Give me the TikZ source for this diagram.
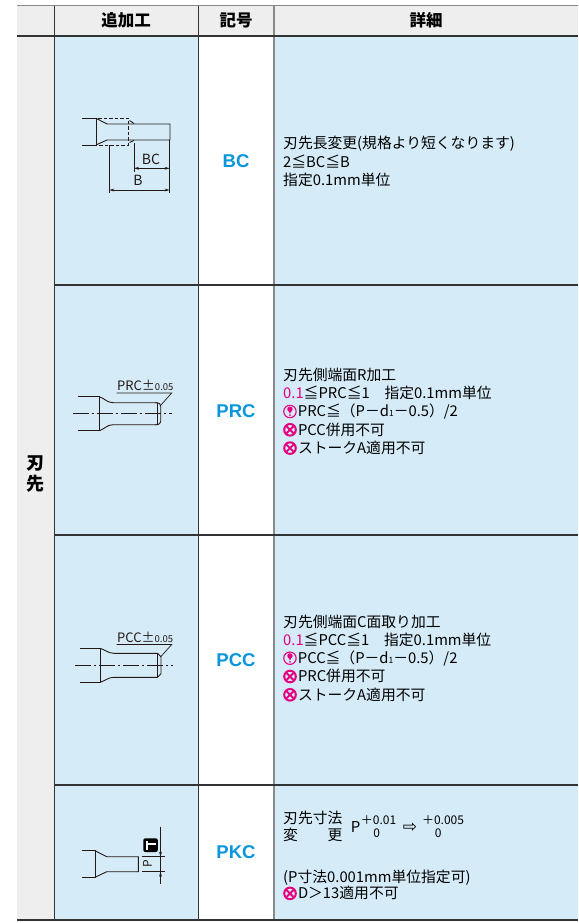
\documentclass[tikz,border=0pt]{standalone}
\usepackage{fontspec}
\setmainfont{Noto Sans CJK JP}
\newfontfamily\latn{Liberation Sans}
\newfontfamily\djv{DejaVu Sans}
\usetikzlibrary{arrows.meta}
\definecolor{bluebg}{HTML}{D5ECF8}
\definecolor{graybg}{HTML}{EEEEEE}
\definecolor{lbl}{HTML}{0A96DC}
\definecolor{pinkc}{HTML}{E4007F}
\definecolor{ink}{HTML}{231815}
\definecolor{rulec}{HTML}{333333}
\definecolor{rulegray}{HTML}{8A8A8A}
\newcommand\xico{\tikz[baseline={(0,0)},x=1pt,y=1pt]{\draw[pinkc,line width=2pt] (0,5.4) circle[radius=5.8]; \draw[pinkc,line width=1.9pt] (-3.5,1.9)--(3.5,8.9) (-3.5,8.9)--(3.5,1.9);}\hspace{1.2pt}}
\newcommand\wico{\tikz[baseline={(0,0)},x=1pt,y=1pt]{\draw[pinkc,line width=1.1pt] (0,5.4) circle[radius=6.2]; \fill[pinkc] (0,7.7) circle[radius=2.7]; \fill[pinkc] (-1.9,6.8)--(1.9,6.8)--(0,3.2)--cycle; \fill[pinkc] (0,1.7) circle[radius=1];}\hspace{1.2pt}}
\newcommand\subone{{\fontsize{8.5}{8}\selectfont 1}}
\tikzset{
  part/.style={draw=ink,line width=0.9pt},
  dimln/.style={draw=ink,line width=0.7pt},
  dimarr/.style={dimln,{Stealth[length=5pt,width=2.8pt]}-{Stealth[length=5pt,width=2.8pt]}},
  onearr/.style={dimln,-{Stealth[length=5pt,width=2.8pt]}},
  cline/.style={draw=ink,line width=0.6pt,dash pattern=on 16pt off 3pt on 2pt off 3pt},
  hdr/.style={font=\bfseries\fontsize{16.5}{18}\selectfont,text=black,inner sep=0},
  code/.style={font=\latn\bfseries\fontsize{18.5}{20}\selectfont,text=lbl,inner sep=0},
  det/.style={font=\fontsize{14.8}{18}\selectfont,text=black,inner sep=0,anchor=base west},
  tol/.style={font=\fontsize{12}{13}\selectfont,text=black,inner sep=0},
  dlbl/.style={font=\fontsize{13}{14}\selectfont,text=ink,inner sep=0}
}
\begin{document}
\begin{tikzpicture}[x=1pt,y=-1pt]
\useasboundingbox (0,0) rectangle (578,923);
% backgrounds
\fill[white] (0,0) rectangle (578,923);
\fill[graybg] (17,5.7) rectangle (578,36);
\fill[graybg] (17,36) rectangle (54,920);
\fill[bluebg] (54,36) rectangle (198,920);
\fill[bluebg] (274,36) rectangle (578,920);
% rules
\draw[rulegray,line width=1.2pt] (17,5.7) -- (578,5.7);
\draw[rulec,line width=0.9pt] (54,5.7) -- (54,920);
\draw[rulec,line width=0.9pt] (198,5.7) -- (198,920);
\draw[rulegray,line width=1.8pt] (274,5.7) -- (274,920);
\foreach \yy in {285,535,785} \draw[rulec,line width=1.2pt] (54,\yy) -- (578,\yy);
\draw[rulec,line width=2pt] (17,36) -- (578,36);
\draw[rulec,line width=2pt] (17,920) -- (578,920);
% header
\node[hdr] (h1) at (126,20.5) {追加工};
\node[hdr] (h2) at (236,20.5) {記号};
\node[hdr] (h3) at (426,20.5) {詳細};
\node[font=\bfseries\fontsize{18}{21}\selectfont,align=center,inner sep=0] (side) at (35.5,474) {刃\\先};
% codes
\node[code] (c1) at (236,161) {BC};
\node[code] (c2) at (236,411) {PRC};
\node[code] (c3) at (236,660) {PCC};
\node[code] (c4) at (236,852) {PKC};
% ---------- BC drawing
\draw[part] (82,118.3) -- (96,118.3) -- (96,145) -- (82,145);
\draw[part] (96,118.3) -- (107,124) -- (170,124) -- (170,140) -- (107,140) -- (96,145);
\draw[ink,line width=0.9pt,dash pattern=on 3.5pt off 2pt] (98,118.3) -- (128.3,118.3) -- (128.3,145) -- (98,145);
\draw[ink,line width=0.9pt] (129.5,120.5) -- (134,123.5) (129.5,142.5) -- (134,140.5);
\draw[dimln] (109.3,145) -- (109.3,193);
\draw[dimln] (134,143) -- (134,172);
\draw[dimln] (169.6,140) -- (169.6,193);
\draw[dimarr] (134,168.3) -- (169.6,168.3);
\draw[dimarr] (109.3,190) -- (169.6,190);
\node[dlbl,font=\fontsize{14}{15}\selectfont] (lbc) at (151,159) {BC};
\node[dlbl,font=\fontsize{14}{15}\selectfont] (lb) at (138,180) {B};
% ---------- PRC drawing
\draw[part] (78.3,396.7) -- (99.3,396.7) -- (99.3,430.7) -- (78.3,430.7);
\draw[part] (99.3,396.7) .. controls (104,398) and (107,402.7) .. (113,402.7) -- (157,402.7);
\draw[part] (99.3,430.7) .. controls (104,429.4) and (107,424.7) .. (113,424.7) -- (157,424.7);
\draw[part,rounded corners=3.5pt] (155,402.7) -- (160.7,402.7) -- (160.7,424.7) -- (155,424.7);
\draw[part] (157,402.7) -- (157,424.7);
\draw[cline] (73.3,413.7) -- (171.7,413.7);
\node[dlbl,anchor=base west] (lprc) at (117,390.5) {PRC±{\fontsize{9.5}{10}\selectfont 0.05}};
\draw[dimln] (116.7,393) -- (171.7,393) -- (160.5,405.5);
% ---------- PCC drawing
\draw[part] (80,648.3) -- (100,648.3) -- (100,682.3) -- (80,682.3);
\draw[part] (100,648.3) .. controls (105,649.6) and (108,653.3) .. (114,653.3) -- (157.5,653.3) -- (161,656.8) -- (161,673.8) -- (157.5,677.3) -- (114,677.3) .. controls (108,677.3) and (105,681) .. (100,682.3);
\draw[part] (157.5,653.3) -- (157.5,677.3);
\draw[cline] (75,665.3) -- (173.3,665.3);
\node[dlbl,anchor=base west] (lpcc) at (117,642) {PCC±{\fontsize{9.5}{10}\selectfont 0.05}};
\draw[dimln] (116.7,644.5) -- (171.7,644.5) -- (160.5,657);
% ---------- PKC drawing
\draw[part] (81.7,850.7) -- (95,850.7) -- (95,877.3) -- (81.7,877.3);
\draw[part] (95,850.7) -- (106.7,856.7) -- (138.3,856.7) -- (138.3,871.7) -- (106.7,871.7) -- (95,877.3);
\draw[dimln] (141.7,856.7) -- (165,856.7);
\draw[dimln] (141.7,871.7) -- (165,871.7);
\draw[dimln] (160.5,826.7) -- (160.5,884);
\draw[onearr] (160.5,840) -- (160.5,856.7);
\draw[onearr] (160.5,884) -- (160.5,871.7);
\node[dlbl,font=\fontsize{12}{13}\selectfont,rotate=90] (lp) at (147.5,864) {P};
\fill[black,rounded corners=2pt] (143.3,838.3) rectangle (157.8,852);
\draw[white,line width=2pt] (146.8,841) -- (146.8,849.5) (146.8,844.3) -- (155.5,844.3);
% ---------- details row 1
\node[det] (d1a) at (283,148.6) {刃先長変更(規格より短くなります)};
\node[det] (d1b) at (283,167) {2≦BC≦B};
\node[det] (d1c) at (283,185.3) {指定0.1mm単位};
% row 2
\node[det] (d2a) at (283,380.3) {刃先側端面R加工};
\node[det] (d2b) at (283,398.6) {{\color{pinkc}0.1}≦PRC≦1　指定0.1mm単位};
\node[det] (d2c) at (283,416.9) {\wico PRC≦（P－d\subone－0.5）/2};
\node[det] (d2d) at (283,435.2) {\xico PCC併用不可};
\node[det] (d2e) at (283,453.5) {\xico ストークA適用不可};
% row 3
\node[det] (d3a) at (283,627) {刃先側端面C面取り加工};
\node[det] (d3b) at (283,645.3) {{\color{pinkc}0.1}≦PCC≦1　指定0.1mm単位};
\node[det] (d3c) at (283,663.6) {\wico PCC≦（P－d\subone－0.5）/2};
\node[det] (d3d) at (283,681.9) {\xico PRC併用不可};
\node[det] (d3e) at (283,700.2) {\xico ストークA適用不可};
% row 4
\node[det] (d4a) at (283,823.6) {刃先寸法};
\node[det] (d4b) at (283,840.3) {変};
\node[det,anchor=base east] (d4c) at (342.5,840.3) {更};
\node[font=\fontsize{15}{16}\selectfont,inner sep=0] (d4p) at (355.5,826.7) {P};
\node[tol] (d4t1) at (378.5,820) {＋0.01};
\node[tol] (d4t2) at (376.7,833.3) {0};
\node[font=\djv\fontsize{17}{18}\selectfont,inner sep=0] (d4arr) at (410,827.5) {⇨};
\node[tol] (d4t3) at (443,820) {＋0.005};
\node[tol] (d4t4) at (438.3,833.3) {0};
\node[det] (d4d) at (283,882) {(P寸法0.001mm単位指定可)};
\node[det] (d4e) at (283,898.8) {\xico D＞13適用不可};
\end{tikzpicture}
\end{document}
